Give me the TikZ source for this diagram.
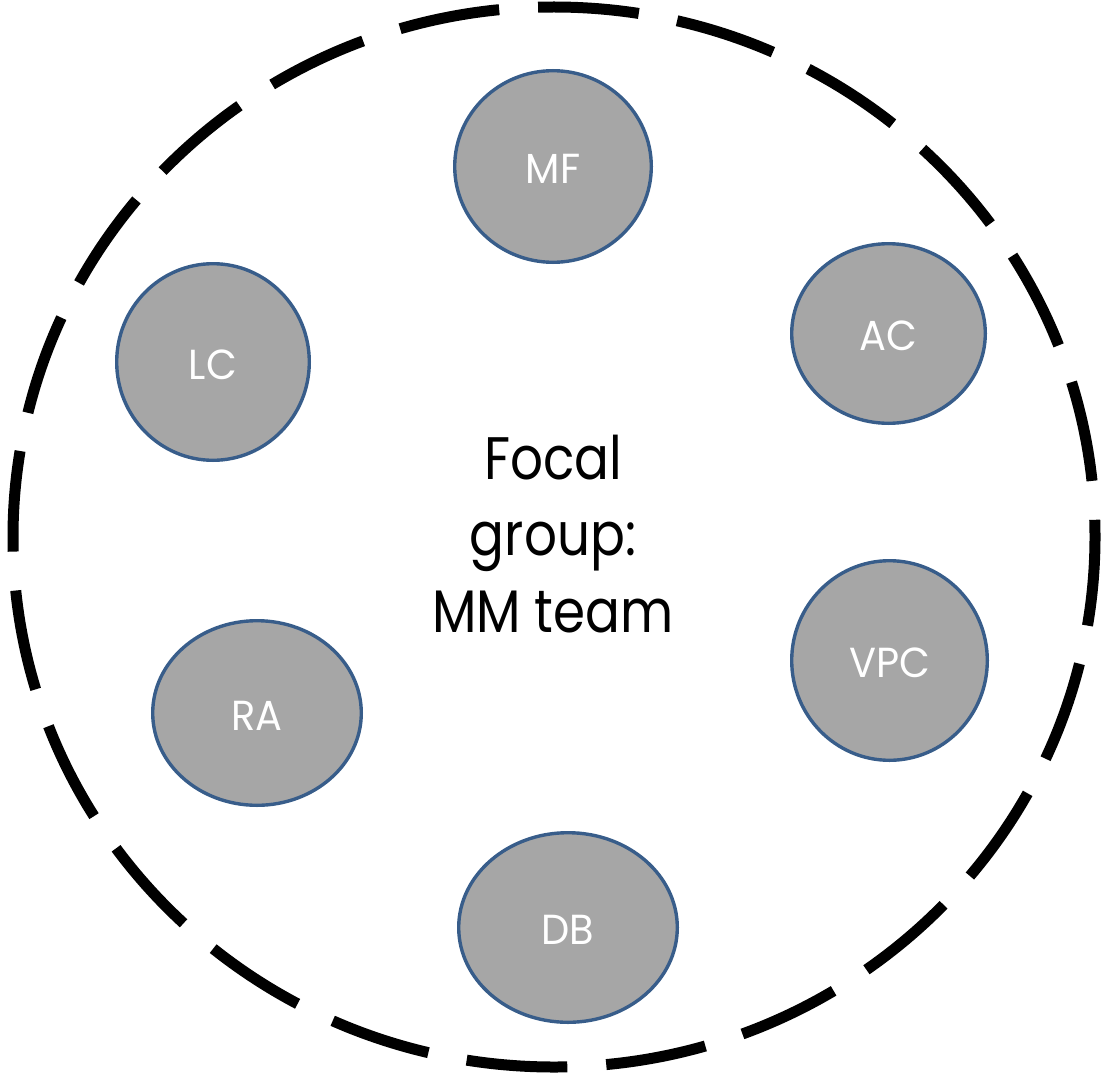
\documentclass[tikz,border=0pt]{standalone}
\usepackage{fontspec}
\setmainfont{Poppins}
\newfontfamily\memberfont[FakeStretch=0.95]{Poppins}
\newfontfamily\focalfont[FakeStretch=0.86]{Poppins}
\usetikzlibrary{shapes.geometric}

\definecolor{memberblue}{HTML}{385D8A}
\definecolor{membergray}{HTML}{A6A6A6}

\begin{document}
\begin{tikzpicture}[x=1pt,y=-1pt,
  boundary/.style={draw=black, line width=11pt,
    dash pattern=on 101pt off 39pt, dash phase=12pt},
  member/.style={ellipse, draw=memberblue, line width=3.4pt,
    fill=membergray, inner sep=0pt},
  tag/.style={text=white, font=\memberfont\fontsize{42}{50}\selectfont,
    yshift=-2.5pt},
  focal/.style={text=black, align=center,
    font=\focalfont\fontsize{60}{76.5}\selectfont, inner sep=0pt}
]
\useasboundingbox (0,0) rectangle (1102,1078);

% dashed boundary of the focal group
\draw[boundary] (554,537) ellipse [x radius=541, y radius=530];

% team members
\node[member, minimum width=196.6pt, minimum height=191.6pt,
  label={[tag]center:MF}] (mf) at (553,166.5) {};
\node[member, minimum width=193.6pt, minimum height=179.6pt,
  label={[tag]center:AC}] (ac) at (888.5,333.5) {};
\node[member, minimum width=192.6pt, minimum height=196.6pt,
  label={[tag]center:LC}] (lc) at (213,362) {};
\node[member, minimum width=195.6pt, minimum height=199.6pt,
  label={[tag]center:VPC}] (vpc) at (889.5,660.5) {};
\node[member, minimum width=208.6pt, minimum height=184.6pt,
  label={[tag]center:RA}] (ra) at (257,713) {};
\node[member, minimum width=218.6pt, minimum height=189.6pt,
  label={[tag]center:DB}] (db) at (568,927.5) {};

% group title
\node[focal] (title) at (553,534) {Focal\\group:\\MM team};
\end{tikzpicture}
\end{document}
